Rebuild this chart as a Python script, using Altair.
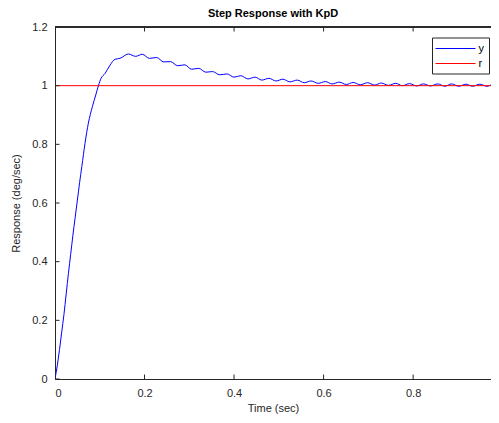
import altair as alt
import pandas as pd

# ---- data ----
y_time = [0.000, 0.005, 0.010, 0.015, 0.020, 0.025, 0.030, 0.035, 0.040, 0.045,
          0.050, 0.055, 0.060, 0.067, 0.0745, 0.0834, 0.091, 0.097, 0.103, 0.112,
          0.123, 0.134, 0.145, 0.164,
          0.180, 0.195, 0.211, 0.227, 0.243, 0.258, 0.274, 0.290, 0.305, 0.321,
          0.337, 0.352, 0.368, 0.384, 0.400, 0.415, 0.431, 0.447, 0.462, 0.478,
          0.494, 0.509, 0.525, 0.541, 0.557, 0.572, 0.588, 0.604, 0.619, 0.635,
          0.651, 0.666, 0.682, 0.698, 0.714, 0.729, 0.745, 0.761, 0.776, 0.792,
          0.808, 0.823, 0.839, 0.855, 0.871, 0.886, 0.902, 0.918, 0.933, 0.949,
          0.965, 0.980, 0.996]
y_resp = [0.000, 0.045, 0.100, 0.160, 0.220, 0.290, 0.360, 0.425, 0.490, 0.550,
          0.610, 0.670, 0.725, 0.803, 0.872, 0.928, 0.968, 1.000, 1.025, 1.042,
          1.070, 1.090, 1.093, 1.108,
          1.100, 1.107, 1.093, 1.096, 1.081, 1.082, 1.068, 1.071, 1.056, 1.059,
          1.046, 1.048, 1.037, 1.040, 1.029, 1.034, 1.023, 1.029, 1.019, 1.025,
          1.016, 1.022, 1.013, 1.019, 1.010, 1.016, 1.008, 1.014, 1.006, 1.012,
          1.004, 1.011, 1.003, 1.010, 1.002, 1.009, 1.001, 1.008, 1.000, 1.007,
          0.999, 1.006, 0.999, 1.006, 0.998, 1.006, 0.998, 1.005, 0.998, 1.005,
          0.998, 1.005, 0.998]
r_time = [0.0, 1.0]
r_resp = [1.0, 1.0]
series_names = ["y", "r"]
series_colors = ["#0000ff", "#ff0000"]
x_ticks = [0, 0.2, 0.4, 0.6, 0.8]
y_ticks = [0, 0.2, 0.4, 0.6, 0.8, 1.0, 1.2]

W, H = 436, 352
FONT = "Liberation Sans"
AX = "#262626"
TL = 4.5

df = pd.concat([
    pd.DataFrame({"t": y_time, "v": y_resp, "s": "y"}),
    pd.DataFrame({"t": r_time, "v": r_resp, "s": "r"}),
], ignore_index=True)

xscale = alt.Scale(domain=[0, 0.974], nice=False, zero=False)
yscale = alt.Scale(domain=[0, 1.2], nice=False)

lines = alt.Chart(df).mark_line(strokeWidth=1, clip=True, interpolate="monotone").encode(
    x=alt.X("t:Q", scale=xscale, title="Time (sec)",
            axis=alt.Axis(values=x_ticks, format="~g", ticks=False, grid=False,
                          labelPadding=8, titlePadding=4)),
    y=alt.Y("v:Q", scale=yscale, title="Response (deg/sec)",
            axis=alt.Axis(values=y_ticks, format="~g", ticks=False, grid=False,
                          labelPadding=8, titlePadding=10)),
    color=alt.Color("s:N", scale=alt.Scale(domain=series_names, range=series_colors),
                    legend=alt.Legend(title=None, orient="none", legendX=377, legendY=10.5,
                                      symbolType="M-4,0H4", symbolSize=100,
                                      symbolOffset=12.5, symbolStrokeWidth=1.2,
                                      labelFontSize=11, labelFont=FONT, labelColor="black",
                                      strokeColor=AX, fillColor="white", padding=5,
                                      rowPadding=4, labelOffset=17)),
    detail="s:N",
)

xt = pd.DataFrame({"t": x_ticks})
yt = pd.DataFrame({"v": y_ticks})

bottom_ticks = alt.Chart(xt).mark_rule(color=AX, strokeWidth=1, clip=True).encode(
    x=alt.X("t:Q", scale=xscale), y=alt.value(H), y2=alt.value(H - TL))
top_ticks = alt.Chart(xt).mark_rule(color=AX, strokeWidth=1, clip=True).encode(
    x=alt.X("t:Q", scale=xscale), y=alt.value(0), y2=alt.value(TL))
left_ticks = alt.Chart(yt).mark_rule(color=AX, strokeWidth=1).encode(
    y=alt.Y("v:Q", scale=yscale), x=alt.value(0), x2=alt.value(TL))
top_line = alt.Chart(xt).mark_rule(color=AX, strokeWidth=1).encode(
    y=alt.value(0), x=alt.value(0), x2=alt.value(W))

chart = alt.layer(lines, bottom_ticks, top_ticks, left_ticks, top_line).properties(
    width=W, height=H, background="white",
    title=alt.TitleParams("Step Response with KpD", fontSize=11, fontWeight="bold",
                          font=FONT, color="black", frame="group", anchor="middle", offset=2),
    autosize=alt.AutoSizeParams(type="none"),
    padding={"left": 47, "top": 19, "right": 0, "bottom": 36},
).configure_view(stroke="transparent", strokeWidth=0).configure_axis(
    domainColor=AX, domainWidth=1, labelColor=AX, labelFont=FONT, labelFontSize=11,
    titleColor=AX, titleFont=FONT, titleFontSize=11, titleFontWeight="normal",
)

chart.save("out.html", embed_options={"renderer": "svg", "actions": False})
